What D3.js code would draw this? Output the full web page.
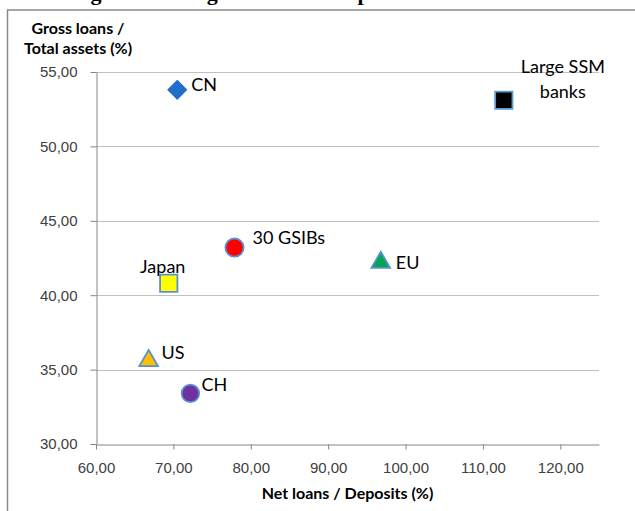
<!DOCTYPE html>
<html>
<head>
<meta charset="utf-8">
<script src="https://cdn.jsdelivr.net/npm/d3@7"></script>
<style>
  html, body { margin: 0; padding: 0; background: #fff; overflow: hidden; }
  svg { display: block; font-family: Lato, "Open Sans", sans-serif; }
  .tick text { font-size: 15px; fill: #404040; }
  .axis path, .axis line { stroke: #868686; }
  .grid line { stroke: #c0c0c0; }
  .ax-title { font-size: 16px; font-weight: bold; fill: #000; }
  .pt-label { font-size: 18px; fill: #000; }
</style>
</head>
<body>
<div id="chart"></div>
<script>
'use strict';

// ── Data ──────────────────────────────────────────────────────────────────
const banks            = ['CN', 'Large SSM banks', '30 GSIBs', 'EU', 'Japan', 'US', 'CH'];
const netLoansDeposits = [70.5, 112.7, 77.9, 96.8, 69.4, 66.8, 72.2];
const grossLoansAssets = [53.8, 53.1, 43.2, 42.2, 40.8, 35.6, 33.4];
const xTicks           = [60, 70, 80, 90, 100, 110, 120];
const yTicks           = [30, 35, 40, 45, 50, 55];

// ── Styling per point (marker shape, colours, label placement) ────────────
const STYLE = {
  'CN'             : { shape: d3.symbolDiamond2, size: 200, fill: '#1f6fc8', stroke: '#1f6fc8', dx: 14,  dy: -6,  anchor: 'start' },
  'Large SSM banks': { shape: d3.symbolSquare,   size: 300, fill: '#000000', stroke: '#5b9bd5', dx: 59,  dy: -34, anchor: 'middle', lines: ['Large SSM', 'banks'] },
  '30 GSIBs'       : { shape: d3.symbolCircle,   size: 260, fill: '#ff0000', stroke: '#5b8fd0', dx: 18,  dy: -11, anchor: 'start' },
  'EU'             : { shape: d3.symbolTriangle, size: 150, fill: '#00a651', stroke: '#5b8fd0', dx: 15,  dy: 0,   anchor: 'start' },
  'Japan'          : { shape: d3.symbolSquare,   size: 300, fill: '#ffff00', stroke: '#5b8fd0', dx: -6,  dy: -17, anchor: 'middle' },
  'US'             : { shape: d3.symbolTriangle, size: 150, fill: '#ffc000', stroke: '#5b8fd0', dx: 13,  dy: -9,  anchor: 'start' },
  'CH'             : { shape: d3.symbolCircle,   size: 240, fill: '#7030a0', stroke: '#5b8fd0', dx: 11,  dy: -9,  anchor: 'start' },
};

const W = 635, H = 511;
const M = { left: 96, right: 36, top: 72, bottom: 67 };

const points = banks.map((b, i) => ({ name: b, x: netLoansDeposits[i], y: grossLoansAssets[i] }));

const svg = d3.select('#chart').append('svg')
  .attr('width', W).attr('height', H);

// title of the page above, cut off by the top edge as in the source
svg.append('text')
  .attr('x', 22).attr('y', 0)
  .attr('font-family', '"Liberation Serif", serif')
  .attr('font-weight', 'bold')
  .attr('font-size', 22)
  .text('Banking and lending models: a comparison');

// chart frame (continues beyond the window)
svg.append('rect')
  .attr('x', 7.5).attr('y', 10)
  .attr('width', W + 20).attr('height', H + 20)
  .attr('fill', 'none')
  .attr('stroke', '#8a8a8a')
  .attr('stroke-width', 1.5);

const x = d3.scaleLinear().domain([60, 125]).range([M.left, W - M.right]);
const y = d3.scaleLinear().domain([30, 55]).range([H - M.bottom, M.top]);

const fmt = d => d3.format('.2f')(d).replace('.', ',');

// ── Gridlines ─────────────────────────────────────────────────────────────
svg.append('g')
  .attr('class', 'grid')
  .selectAll('line')
  .data(yTicks.filter(t => t > 30))
  .enter().append('line')
  .attr('x1', x(60)).attr('x2', x(125))
  .attr('y1', d => Math.round(y(d)) + 0.5)
  .attr('y2', d => Math.round(y(d)) + 0.5);

// ── Axes ──────────────────────────────────────────────────────────────────
svg.append('g')
  .attr('class', 'axis')
  .attr('transform', `translate(0,${Math.round(y(30)) + 0.5})`)
  .call(d3.axisBottom(x).tickValues(xTicks).tickFormat(fmt).tickSize(5).tickSizeOuter(0).tickPadding(13));

svg.append('g')
  .attr('class', 'axis')
  .attr('transform', `translate(${Math.round(x(60)) + 0.5},0)`)
  .call(d3.axisLeft(y).tickValues(yTicks).tickFormat(fmt).tickSize(6).tickSizeOuter(0).tickPadding(13));

// axis titles
svg.append('text')
  .attr('class', 'ax-title')
  .attr('x', (x(60) + x(125)) / 2).attr('y', 499)
  .attr('text-anchor', 'middle')
  .text('Net loans / Deposits (%)');

const yt = svg.append('text')
  .attr('class', 'ax-title')
  .attr('text-anchor', 'middle');
yt.append('tspan').attr('x', 78).attr('y', 34).text('Gross loans /');
yt.append('tspan').attr('x', 78).attr('y', 54).text('Total assets (%)');

// ── Markers ───────────────────────────────────────────────────────────────
const pts = svg.append('g').selectAll('g')
  .data(points)
  .enter().append('g')
  .attr('transform', d => `translate(${x(d.x)},${y(d.y)})`);

pts.append('path')
  .attr('d', d => d3.symbol().type(STYLE[d.name].shape).size(STYLE[d.name].size)())
  .attr('fill', d => STYLE[d.name].fill)
  .attr('stroke', d => STYLE[d.name].stroke)
  .attr('stroke-width', 1.8);

const labels = pts.append('text')
  .attr('class', 'pt-label')
  .attr('text-anchor', d => STYLE[d.name].anchor)
  .attr('dominant-baseline', 'central');

labels.each(function (d) {
  const s = STYLE[d.name];
  const lines = s.lines || [d.name];
  const t = d3.select(this);
  lines.forEach((ln, i) => {
    t.append('tspan')
      .attr('x', s.dx)
      .attr('y', s.dy + i * 25)
      .text(ln);
  });
});
</script>
</body>
</html>
